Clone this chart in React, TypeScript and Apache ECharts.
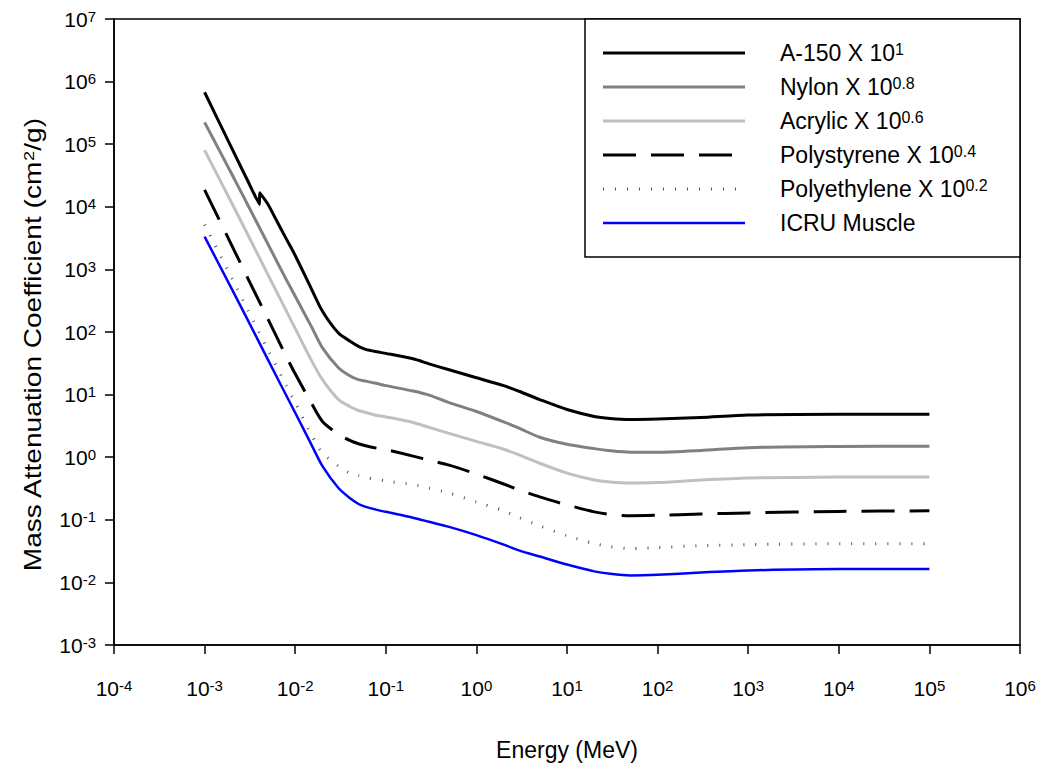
import React, { useEffect, useRef } from "react";
import * as echarts from "echarts";

// Energy grid (MeV) shared by most series
const ENERGY = [0.001, 0.002, 0.003, 0.005, 0.008, 0.01, 0.015, 0.02, 0.03, 0.04, 0.05, 0.06, 0.08, 0.1, 0.2, 0.3, 0.5, 1, 2, 3, 5, 10, 20, 30, 50, 100, 300, 1000, 1e4, 1e5];

// A-150 has a K-edge near 4 keV, so it has its own energy list
const A150_ENERGY = [0.001, 0.002, 0.003, 0.00403, 0.00405, 0.005, 0.006, 0.008, 0.01, 0.015, 0.02, 0.03, 0.04, 0.05, 0.06, 0.08, 0.1, 0.2, 0.3, 0.5, 1, 2, 3, 5, 10, 20, 30, 50, 100, 300, 1000, 1e4, 1e5];
const A150 = [6.76e5, 8.57e4, 2.58e4, 1.09e4, 1.67e4, 1.1e4, 6680, 3050, 1670, 499, 215, 96.4, 71.9, 58.9, 52.7, 48.2, 45.6, 37.3, 31.0, 24.9, 18.6, 13.9, 11.2, 8.34, 5.78, 4.48, 4.16, 4.01, 4.08, 4.32, 4.73, 4.87, 4.87];
const NYLON = [2.23e5, 3.31e4, 1.07e4, 2540, 681, 372, 124, 55.7, 26.9, 20.0, 17.3, 16.4, 15.0, 13.9, 11.4, 9.82, 7.46, 5.37, 3.66, 2.88, 2.08, 1.61, 1.37, 1.27, 1.2, 1.2, 1.28, 1.42, 1.48, 1.5];
const ACRYLIC = [8.03e4, 1.14e4, 3580, 826, 215, 114, 35.9, 17.3, 8.34, 6.46, 5.57, 5.18, 4.64, 4.4, 3.59, 2.99, 2.4, 1.79, 1.34, 1.08, 0.8, 0.557, 0.431, 0.401, 0.387, 0.394, 0.431, 0.464, 0.482, 0.484];
const POLYSTYRENE = [1.86e4, 2400, 720, 161, 40.1, 21.5, 7.46, 3.73, 2.32, 1.86, 1.64, 1.52, 1.39, 1.32, 1.04, 0.896, 0.746, 0.537, 0.373, 0.299, 0.232, 0.173, 0.134, 0.122, 0.116, 0.118, 0.124, 0.129, 0.136, 0.139];
const POLYETHYLENE = [5180, 720, 223, 51.8, 13.9, 7.46, 2.32, 1.16, 0.72, 0.557, 0.508, 0.473, 0.44, 0.416, 0.366, 0.322, 0.268, 0.193, 0.139, 0.108, 0.08, 0.0557, 0.0416, 0.0373, 0.0347, 0.036, 0.0387, 0.0401, 0.0416, 0.0416];
const MUSCLE = [3340, 483, 155, 36.2, 9.58, 5.13, 1.62, 0.72, 0.322, 0.223, 0.179, 0.161, 0.144, 0.134, 0.108, 0.093, 0.077, 0.0568, 0.0401, 0.0322, 0.0259, 0.0193, 0.015, 0.0137, 0.0129, 0.0132, 0.0144, 0.0155, 0.0163, 0.0163];

// Legend labels: [base text, superscript]
const LEGEND_LABELS: [string, string][] = [
  ["A-150 X 10", "1"],
  ["Nylon X 10", "0.8"],
  ["Acrylic X 10", "0.6"],
  ["Polystyrene X 10", "0.4"],
  ["Polyethylene X 10", "0.2"],
  ["ICRU Muscle", ""],
];

const X_TITLE = "Energy (MeV)";
const Y_TITLE: [string, string, string] = ["Mass Attenuation Coefficient (cm", "2", "/g)"];
const FONT = "'Liberation Sans', Arial, sans-serif";

const STYLES = [
  { color: "#000000", width: 3, type: "solid" as any },
  { color: "#808080", width: 3, type: "solid" as any },
  { color: "#c0c0c0", width: 3, type: "solid" as any },
  { color: "#000000", width: 3, type: [33, 15] as any },
  { color: "#555555", width: 3, type: [1, 11] as any },
  { color: "#0000ff", width: 2.5, type: "solid" as any },
];

const pairs = (xs: number[], ys: number[]) => ys.map((y, i) => [xs[i], y]);

const supRich = (base: number, sup: number) => ({
  b: { fontSize: base, fontFamily: FONT, color: "#000", verticalAlign: "bottom", lineHeight: base },
  s: { fontSize: sup, fontFamily: FONT, color: "#000", verticalAlign: "top", lineHeight: sup, padding: [0, 0, Math.round(base * 0.5), 0] },
});

export default function App() {
  const ref = useRef<HTMLDivElement>(null);
  useEffect(() => {
    if (!ref.current) return;
    const chart = echarts.init(ref.current, undefined, { renderer: "svg" });
    const seriesData = [
      pairs(A150_ENERGY, A150),
      pairs(ENERGY, NYLON),
      pairs(ENERGY, ACRYLIC),
      pairs(ENERGY, POLYSTYRENE),
      pairs(ENERGY, POLYETHYLENE),
      pairs(ENERGY, MUSCLE),
    ];
    const legendLeft = 585, legendTop = 19, legendRight = 1020, legendBottom = 257;
    const rowY0 = 53, rowPitch = 34;
    const graphics: any[] = [
      {
        type: "rect",
        shape: { x: legendLeft, y: legendTop, width: legendRight - legendLeft, height: legendBottom - legendTop },
        style: { fill: "#fff", stroke: "#000", lineWidth: 1.5 },
        z: 10,
      },
      {
        type: "text",
        x: 33,
        y: 345,
        rotation: Math.PI / 2,
        scaleX: 1.22,
        style: {
          text: `{t|${Y_TITLE[0]}}{s|${Y_TITLE[1]}}{t|${Y_TITLE[2]}}`,
          rich: {
            t: { fontSize: 23, fontFamily: FONT, color: "#000", verticalAlign: "bottom", lineHeight: 23 },
            s: { fontSize: 15, fontFamily: FONT, color: "#000", verticalAlign: "top", lineHeight: 15, padding: [0, 0, 12, 0] },
          },
          align: "center",
          verticalAlign: "middle",
        },
        z: 10,
      },
    ];
    LEGEND_LABELS.forEach(([base, sup], i) => {
      const y = rowY0 + i * rowPitch;
      const st = STYLES[i];
      graphics.push({
        type: "line",
        shape: { x1: 603, y1: y, x2: 745, y2: y },
        style: { stroke: st.color, lineWidth: st.width, lineDash: Array.isArray(st.type) ? st.type : null },
        z: 11,
      });
      graphics.push({
        type: "text",
        x: 780,
        y: y,
        style: {
          text: sup ? `{b|${base}}{s|${sup}}` : `{b|${base}}`,
          rich: supRich(23, 16),
          verticalAlign: "middle",
          align: "left",
        },
        z: 11,
      });
    });

    const axisLabelFmt = (v: number) => {
      const e = Math.round(Math.log10(v));
      return `{b|10}{s|${e}}`;
    };

    chart.setOption({
      animation: false,
      backgroundColor: "#fff",
      grid: { left: 114, right: 27, top: 19, bottom: 117, show: true, borderColor: "#000", borderWidth: 1.5, containLabel: false },
      xAxis: {
        type: "log",
        logBase: 10,
        min: 1e-4,
        max: 1e6,
        interval: 1,
        name: X_TITLE,
        nameLocation: "middle",
        nameGap: 93,
        nameTextStyle: { fontSize: 23, fontFamily: FONT, color: "#000" },
        axisLine: { show: true, lineStyle: { color: "#000", width: 1.5 } },
        axisTick: { show: true, length: 9, lineStyle: { color: "#000", width: 1.5 } },
        axisLabel: { formatter: axisLabelFmt, rich: supRich(21, 15), margin: 33 },
        splitLine: { show: false },
        minorTick: { show: false },
      },
      yAxis: {
        type: "log",
        logBase: 10,
        min: 1e-3,
        max: 1e7,
        interval: 1,
        axisLine: { show: true, lineStyle: { color: "#000", width: 1.5 } },
        axisTick: { show: true, length: 9, lineStyle: { color: "#000", width: 1.5 } },
        axisLabel: { formatter: axisLabelFmt, rich: supRich(21, 15), margin: 18 },
        splitLine: { show: false },
        minorTick: { show: false },
      },
      series: seriesData.map((d, i) => ({
        type: "line",
        name: LEGEND_LABELS[i][0],
        data: d,
        showSymbol: false,
        smooth: 0.25,
        lineStyle: { color: STYLES[i].color, width: STYLES[i].width, type: STYLES[i].type, join: "round" },
        z: 2 + (5 - i),
      })),
      graphic: graphics,
    });
    return () => chart.dispose();
  }, []);
  return <div ref={ref} style={{ position: "fixed", left: 0, top: 0, width: 1047, height: 766 }} />;
}
